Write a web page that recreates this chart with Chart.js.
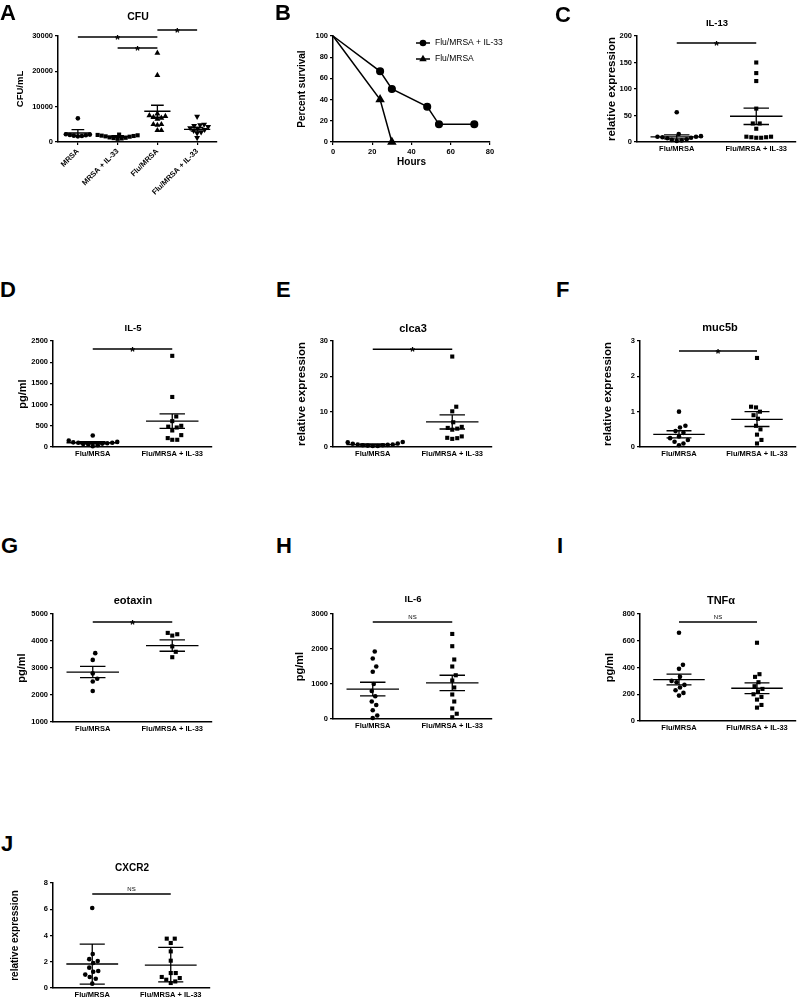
<!DOCTYPE html>
<html>
<head>
<title>Flu/MRSA + IL-33 panels</title>
<script src="https://cdn.jsdelivr.net/npm/chart.js"></script>
<style>
  body { margin: 0; background: #fff; font-family: "Liberation Sans", Arial, sans-serif; }
  #fig { position: relative; width: 800px; height: 1000px; }
  .lt { position: absolute; font-weight: bold; font-size: 22px; line-height: 1; }
  .ttl { position: absolute; font-weight: bold; line-height: 1; white-space: nowrap; transform: translate(-50%, -50%); }
  canvas { position: absolute; }
</style>
</head>
<body>
<div id="fig"></div>
<script>
// ---- data ----
const groupCats = ['Flu/MRSA', 'Flu/MRSA + IL-33'];

// A: CFU
const cfuCats = ['MRSA', 'MRSA + IL-33', 'Flu/MRSA', 'Flu/MRSA + IL-33'];
const cfuMRSA = [6700, 2200, 2000, 1900, 1800, 1700, 1600, 2100];
const cfuMRSAIL33 = [2000, 1900, 1800, 1600, 1500, 1300, 1200, 1100, 1000, 900, 1700, 2100];
const cfuFlu = [25200, 18900, 8000, 7500, 7300, 7000, 6800, 6500, 5000, 5000, 4800, 3300, 3300];
const cfuFluIL33 = [7200, 5000, 4800, 4600, 4300, 4000, 3800, 3500, 3200, 2800, 2500, 1200];
const cfuMean = [2550, 1550, 8700, 3600];
const cfuHi = [3500, 1800, 10400, 4100];
const cfuLo = [1650, 1300, 7000, 3100];

// B: survival
const survHours = [0, 24, 30, 48, 54, 72];
const survIL33 = [100, 66.7, 50, 33.3, 16.7, 16.7];
const survFluHours = [0, 24, 30];
const survFlu = [100, 40, 0];

// C: IL-13
const il13Flu = [56, 15, 11, 10, 10, 9, 8, 7, 5, 4, 3, 2];
const il13FluIL33 = [150, 130, 115, 63, 35, 35, 25, 10, 9, 8, 8, 9, 10];
const il13Mean = [9.5, 48.6], il13Hi = [13.5, 64], il13Lo = [6, 33];

// D: IL-5
const il5Flu = [270, 150, 120, 110, 100, 100, 90, 80, 70, 60, 40, 20];
const il5FluIL33 = [2150, 1180, 720, 610, 500, 480, 460, 390, 280, 210, 170, 170];
const il5Mean = [100, 610], il5Hi = [125, 780], il5Lo = [75, 440];

// E: clca3
const clca3Flu = [1.4, 1.3, 1.0, 0.9, 0.7, 0.6, 0.5, 0.4, 0.3, 0.3, 0.5, 0.7];
const clca3FluIL33 = [25.6, 11.4, 10.1, 7.0, 5.7, 5.4, 5.2, 4.9, 3.0, 2.5, 2.3, 2.6];
const clca3Mean = [0.7, 7.1], clca3Hi = [0.85, 9.1], clca3Lo = [0.55, 5.1];

// F: muc5b
const muc5bFlu = [1.0, 0.6, 0.55, 0.45, 0.4, 0.3, 0.25, 0.2, 0.15, 0.1, 0.05];
const muc5bFluIL33 = [2.52, 1.14, 1.12, 1.0, 0.9, 0.8, 0.6, 0.5, 0.35, 0.2, 0.1];
const muc5bMean = [0.36, 0.78], muc5bHi = [0.46, 1.0], muc5bLo = [0.26, 0.58];

// G: eotaxin
const eotaxinFlu = [3550, 3300, 2800, 2600, 2500, 2150];
const eotaxinFluIL33 = [4300, 4250, 4200, 3800, 3600, 3400];
const eotaxinMean = [2850, 3830], eotaxinHi = [3060, 4040], eotaxinLo = [2640, 3620];

// H: IL-6
const il6Flu = [1930, 1730, 1500, 1350, 1000, 800, 650, 500, 400, 250, 100, 30];
const il6FluIL33 = [2430, 2080, 1700, 1500, 1250, 1100, 900, 700, 500, 300, 150, 50];
const il6Mean = [855, 1030], il6Hi = [1050, 1250], il6Lo = [660, 810];

// I: TNFa
const tnfFlu = [660, 420, 390, 330, 300, 290, 270, 250, 230, 210, 190];
const tnfFluIL33 = [585, 350, 330, 290, 260, 240, 220, 200, 180, 160, 120, 100];
const tnfMean = [310, 245], tnfHi = [350, 285], tnfLo = [270, 205];

// J: CXCR2
const cxcr2Flu = [6.09, 2.59, 2.2, 2.05, 1.9, 1.55, 1.29, 1.24, 1.02, 0.84, 0.71, 0.33];
const cxcr2FluIL33 = [3.76, 3.76, 3.43, 2.79, 2.08, 1.14, 1.14, 0.84, 0.76, 0.63, 0.5, 0.38];
const cxcr2Mean = [1.83, 1.75], cxcr2Hi = [3.35, 3.1], cxcr2Lo = [0.3, 0.46];

// ---- helpers ----
const FONT = '"Liberation Sans", Arial, sans-serif';
const fig = document.getElementById('fig');

function addText(cls, txt, x, y, size) {
  const d = document.createElement('div');
  d.className = cls;
  d.textContent = txt;
  d.style.left = x + 'px';
  d.style.top = y + 'px';
  if (size) d.style.fontSize = size + 'px';
  fig.appendChild(d);
}

// simple beeswarm: spread points that would overlap (elliptic footprint, px)
function swarm(vals, pyu, pxu, dx, dy) {
  const idx = vals.map((v, i) => i).sort((a, b) => vals[a] - vals[b]);
  const placed = [];
  const off = vals.map(() => 0);
  idx.forEach(i => {
    const py = vals[i] * pyu;
    for (let k = 0; k < 300; k++) {
      const c = (k % 2 ? 1 : -1) * Math.ceil(k / 2) * 0.5;
      if (placed.every(p => ((p.x - c) / dx) ** 2 + ((p.y - py) / dy) ** 2 >= 1)) {
        placed.push({x: c, y: py});
        off[i] = c / pxu;
        return;
      }
    }
  });
  return off;
}

function drawMarker(ctx, shape, x, y, r) {
  ctx.beginPath();
  if (shape === 'circle') ctx.arc(x, y, r, 0, Math.PI * 2);
  else if (shape === 'triangle') {
    ctx.moveTo(x, y - r); ctx.lineTo(x + r * 0.87, y + r * 0.5); ctx.lineTo(x - r * 0.87, y + r * 0.5);
  }
  ctx.closePath();
  ctx.fill();
}

// error bars, significance bars, legend
const marksPlugin = {
  id: 'marks',
  afterDatasetsDraw(chart, args, o) {
    const {ctx} = chart;
    const x = chart.scales.x, y = chart.scales.y;
    ctx.save();
    ctx.strokeStyle = '#000';
    ctx.fillStyle = '#000';
    (o.errs || []).forEach(e => {
      const cx = x.getPixelForValue(e.x);
      const w1 = x.getPixelForValue(e.x + 0.33) - cx;
      const w2 = x.getPixelForValue(e.x + 0.16) - cx;
      const ym = y.getPixelForValue(e.mean), yh = y.getPixelForValue(e.hi), yl = y.getPixelForValue(e.lo);
      ctx.lineWidth = 1.3;
      ctx.beginPath();
      ctx.moveTo(cx - w1, ym); ctx.lineTo(cx + w1, ym);
      ctx.moveTo(cx - w2, yh); ctx.lineTo(cx + w2, yh);
      ctx.moveTo(cx - w2, yl); ctx.lineTo(cx + w2, yl);
      ctx.moveTo(cx, yh); ctx.lineTo(cx, yl);
      ctx.stroke();
    });
    (o.bars || []).forEach(b => {
      const x1 = x.getPixelForValue(b.a), x2 = x.getPixelForValue(b.b), yy = y.getPixelForValue(b.y);
      ctx.lineWidth = 1.5;
      ctx.beginPath();
      ctx.moveTo(x1, yy); ctx.lineTo(x2, yy);
      ctx.stroke();
      ctx.textAlign = 'center';
      if (b.t === '*') {
        ctx.font = 'bold 13px ' + FONT;
        ctx.textBaseline = 'alphabetic';
        ctx.fillText('*', (x1 + x2) / 2, yy + 7);
      } else {
        ctx.font = '6px ' + FONT;
        ctx.textBaseline = 'bottom';
        ctx.fillText(b.t, (x1 + x2) / 2, yy - 1.5);
      }
    });
    if (o.legend) {
      const L = o.legend;
      L.items.forEach((it, k) => {
        const lx = chart.chartArea.left + L.x, ly = chart.chartArea.top + L.y + k * L.gap;
        ctx.lineWidth = 1.5;
        ctx.beginPath();
        ctx.moveTo(lx - 7, ly); ctx.lineTo(lx + 7, ly);
        ctx.stroke();
        drawMarker(ctx, it.shape, lx, ly, it.shape === 'circle' ? 3.3 : 4.3);
        ctx.font = '8.5px ' + FONT;
        ctx.textAlign = 'left';
        ctx.textBaseline = 'middle';
        ctx.fillText(it.label, lx + 12, ly);
      });
    }
    ctx.restore();
  }
};

function makeCanvas(b) {
  const cv = document.createElement('canvas');
  const cl = b.left - b.yW, ct = b.top - b.padT;
  const w = b.right + b.padR - cl, h = b.bottom + b.xH - ct;
  cv.width = w; cv.height = h;
  cv.style.left = cl + 'px';
  cv.style.top = ct + 'px';
  cv.style.width = w + 'px';
  cv.style.height = h + 'px';
  fig.appendChild(cv);
  return cv;
}

function yScale(p) {
  return {
    min: p.ymin, max: p.ymax,
    ticks: {stepSize: p.step, callback: v => String(v), color: '#000', padding: 2, font: {family: FONT, size: 7.5, weight: 'bold'}},
    grid: {drawOnChartArea: false, drawTicks: true, tickLength: 3, color: '#000', lineWidth: 1.2},
    border: {color: '#000', width: 1.5},
    title: {display: true, text: p.ytitle, color: '#000', padding: 0, font: {family: FONT, size: p.yts, weight: 'bold'}},
    afterFit(s) { s.width = p.box.yW; }
  };
}

const RADIUS = {circle: 2.3, rect: 2.9, triangle: 3.4};

function dotPanel(p) {
  const b = p.box;
  const n = p.cats.length;
  const pyu = (b.bottom - b.top) / (p.ymax - p.ymin);
  const pxu = (b.right - b.left) / n;
  const sw = p.swarm || [4.6, 7.5];
  const datasets = p.groups.map((vals, g) => {
    const off = swarm(vals, pyu, pxu, sw[0], sw[1]);
    return {
      data: vals.map((v, i) => ({x: g + off[i], y: v})),
      pointStyle: p.shapes[g],
      rotation: p.rots ? p.rots[g] : 0,
      pointRadius: RADIUS[p.shapes[g]],
      backgroundColor: '#000', borderColor: '#000', borderWidth: 0,
      showLine: false, clip: false
    };
  });
  const errs = p.mean.map((m, i) => ({x: i, mean: m, hi: p.hi[i], lo: p.lo[i]}));
  new Chart(makeCanvas(b), {
    type: 'scatter',
    data: {datasets},
    options: {
      responsive: false, animation: false, devicePixelRatio: 1, events: [],
      layout: {padding: {top: b.padT, right: b.padR, left: 0, bottom: 0}},
      plugins: {legend: {display: false}, tooltip: {enabled: false}, marks: {errs, bars: p.sig}},
      scales: {
        x: {
          type: 'linear', min: -0.5, max: n - 0.5,
          afterBuildTicks(s) { s.ticks = p.cats.map((c, i) => ({value: i})); },
          ticks: {
            callback: v => p.cats[v], autoSkip: false, color: '#000', padding: 2,
            maxRotation: p.rotate ? 45 : 0, minRotation: p.rotate ? 45 : 0,
            font: {family: FONT, size: 7.5, weight: 'bold'}
          },
          grid: {drawOnChartArea: false, drawTicks: !!p.rotate, tickLength: 3, color: '#000', lineWidth: 1.2},
          border: {color: '#000', width: 1.5},
          afterFit(s) { s.height = b.xH; }
        },
        y: yScale(p)
      }
    },
    plugins: [marksPlugin]
  });
}

// ---- panels ----
const dotPanels = [
  {cats: cfuCats, groups: [cfuMRSA, cfuMRSAIL33, cfuFlu, cfuFluIL33], shapes: ['circle', 'rect', 'triangle', 'triangle'], rots: [0, 0, 0, 180],
   mean: cfuMean, hi: cfuHi, lo: cfuLo, ymin: 0, ymax: 30000, step: 10000, ytitle: 'CFU/mL', yts: 9.5, rotate: true,
   swarm: [4, 4.5],
   sig: [{a: 0, b: 2, y: 29700, t: '*'}, {a: 1, b: 2, y: 26600, t: '*'}, {a: 2, b: 3, y: 31700, t: '*'}],
   box: {left: 58, top: 36, right: 217, bottom: 142, yW: 43, xH: 60, padT: 22, padR: 10}},
  {cats: groupCats, groups: [il13Flu, il13FluIL33], shapes: ['circle', 'rect'],
   mean: il13Mean, hi: il13Hi, lo: il13Lo, ymin: 0, ymax: 200, step: 50, ytitle: 'relative expression', yts: 11.5,
   sig: [{a: 0, b: 1, y: 187, t: '*'}],
   box: {left: 637, top: 36, right: 798, bottom: 142, yW: 32, xH: 20, padT: 16, padR: 2}},
  {cats: groupCats, groups: [il5Flu, il5FluIL33], shapes: ['circle', 'rect'],
   mean: il5Mean, hi: il5Hi, lo: il5Lo, ymin: 0, ymax: 2500, step: 500, ytitle: 'pg/ml', yts: 11,
   sig: [{a: 0, b: 1, y: 2310, t: '*'}],
   box: {left: 53, top: 341, right: 212, bottom: 447, yW: 37, xH: 20, padT: 12, padR: 10}},
  {cats: groupCats, groups: [clca3Flu, clca3FluIL33], shapes: ['circle', 'rect'],
   mean: clca3Mean, hi: clca3Hi, lo: clca3Lo, ymin: 0, ymax: 30, step: 10, ytitle: 'relative expression', yts: 11.5,
   sig: [{a: 0, b: 1, y: 27.7, t: '*'}],
   box: {left: 333, top: 341, right: 492, bottom: 447, yW: 38, xH: 20, padT: 12, padR: 10}},
  {cats: groupCats, groups: [muc5bFlu, muc5bFluIL33], shapes: ['circle', 'rect'],
   mean: muc5bMean, hi: muc5bHi, lo: muc5bLo, ymin: 0, ymax: 3, step: 1, ytitle: 'relative expression', yts: 11.5,
   sig: [{a: 0, b: 1, y: 2.72, t: '*'}],
   box: {left: 640, top: 341, right: 798, bottom: 447, yW: 39, xH: 20, padT: 12, padR: 2}},
  {cats: groupCats, groups: [eotaxinFlu, eotaxinFluIL33], shapes: ['circle', 'rect'],
   mean: eotaxinMean, hi: eotaxinHi, lo: eotaxinLo, ymin: 1000, ymax: 5000, step: 1000, ytitle: 'pg/ml', yts: 11,
   sig: [{a: 0, b: 1, y: 4700, t: '*'}],
   box: {left: 53, top: 614, right: 212, bottom: 722, yW: 38, xH: 20, padT: 12, padR: 10}},
  {cats: groupCats, groups: [il6Flu, il6FluIL33], shapes: ['circle', 'rect'],
   mean: il6Mean, hi: il6Hi, lo: il6Lo, ymin: 0, ymax: 3000, step: 1000, ytitle: 'pg/ml', yts: 11,
   sig: [{a: 0, b: 1, y: 2770, t: 'NS'}],
   box: {left: 333, top: 614, right: 492, bottom: 719, yW: 40, xH: 20, padT: 12, padR: 10}},
  {cats: groupCats, groups: [tnfFlu, tnfFluIL33], shapes: ['circle', 'rect'],
   mean: tnfMean, hi: tnfHi, lo: tnfLo, ymin: 0, ymax: 800, step: 200, ytitle: 'pg/ml', yts: 11,
   sig: [{a: 0, b: 1, y: 740, t: 'NS'}],
   box: {left: 640, top: 614, right: 798, bottom: 721, yW: 37, xH: 20, padT: 12, padR: 2}},
  {cats: groupCats, groups: [cxcr2Flu, cxcr2FluIL33], shapes: ['circle', 'rect'],
   mean: cxcr2Mean, hi: cxcr2Hi, lo: cxcr2Lo, ymin: 0, ymax: 8, step: 2, ytitle: 'relative expression', yts: 10,
   sig: [{a: 0, b: 1, y: 7.16, t: 'NS'}],
   box: {left: 53, top: 883, right: 210, bottom: 988, yW: 44, xH: 12, padT: 12, padR: 10}}
];
dotPanels.forEach(dotPanel);

// B: survival curve
const survBox = {left: 333, top: 36, right: 490, bottom: 142, yW: 37, xH: 26, padT: 10, padR: 25};
new Chart(makeCanvas(survBox), {
  type: 'scatter',
  data: {
    datasets: [
      {label: 'Flu/MRSA + IL-33', data: survHours.map((h, i) => ({x: h, y: survIL33[i]})), showLine: true,
       borderColor: '#000', backgroundColor: '#000', borderWidth: 1.5, pointStyle: 'circle',
       pointRadius: survHours.map(h => h === 0 ? 0 : 3.3), clip: false},
      {label: 'Flu/MRSA', data: survFluHours.map((h, i) => ({x: h, y: survFlu[i]})), showLine: true,
       borderColor: '#000', backgroundColor: '#000', borderWidth: 1.5, pointStyle: 'triangle',
       pointRadius: survFluHours.map(h => h === 0 ? 0 : 4), clip: false}
    ]
  },
  options: {
    responsive: false, animation: false, devicePixelRatio: 1, events: [],
    layout: {padding: {top: survBox.padT, right: survBox.padR, left: 0, bottom: 0}},
    plugins: {
      legend: {display: false}, tooltip: {enabled: false},
      marks: {legend: {x: 90, y: 7, gap: 16, items: [{label: 'Flu/MRSA + IL-33', shape: 'circle'}, {label: 'Flu/MRSA', shape: 'triangle'}]}}
    },
    scales: {
      x: {
        type: 'linear', min: 0, max: 80,
        ticks: {stepSize: 20, color: '#000', padding: 2, font: {family: FONT, size: 7.5, weight: 'bold'}},
        grid: {drawOnChartArea: false, drawTicks: true, tickLength: 3, color: '#000', lineWidth: 1.2},
        border: {color: '#000', width: 1.5},
        title: {display: true, text: 'Hours', color: '#000', padding: 0, font: {family: FONT, size: 10, weight: 'bold'}},
        afterFit(s) { s.height = survBox.xH; }
      },
      y: yScale({ymin: 0, ymax: 100, step: 20, ytitle: 'Percent survival', yts: 10, box: survBox})
    }
  },
  plugins: [marksPlugin]
});

// panel letters and titles
[['A', 0, 2], ['B', 275, 2], ['C', 555, 4], ['D', 0, 279], ['E', 276, 279], ['F', 556, 279],
 ['G', 1, 535], ['H', 276, 535], ['I', 557, 535], ['J', 1, 833]].forEach(l => addText('lt', l[0], l[1], l[2]));

[['CFU', 138, 16, 10.5], ['IL-13', 717, 23, 9.5], ['IL-5', 133, 328, 9.5], ['clca3', 413, 328, 11],
 ['muc5b', 720, 327, 11], ['eotaxin', 133, 600, 11], ['IL-6', 413, 599, 9.5], ['TNFα', 721, 600, 11],
 ['CXCR2', 132, 868, 10]].forEach(t => addText('ttl', t[0], t[1], t[2], t[3]));
</script>
</body>
</html>
